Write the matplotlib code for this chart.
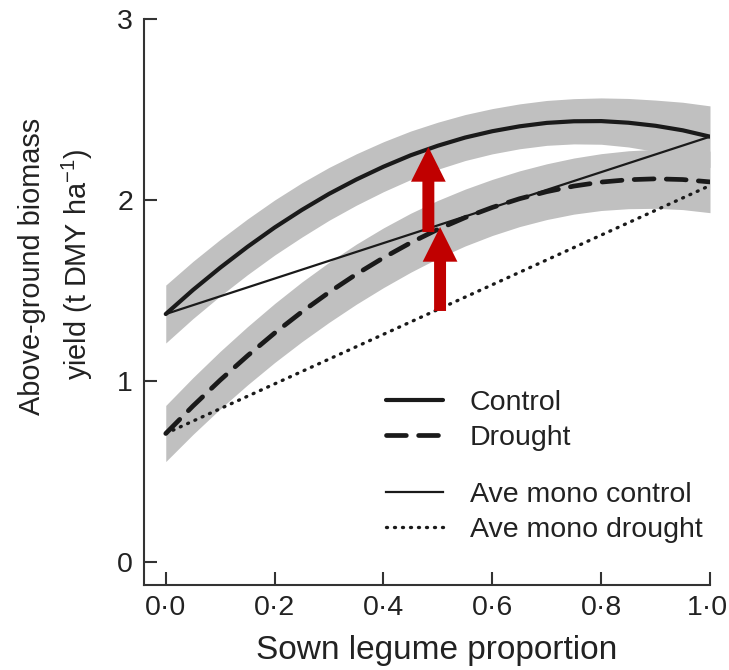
import matplotlib
matplotlib.use('Agg')
import matplotlib.pyplot as plt
from matplotlib.patches import FancyArrowPatch, ArrowStyle
from matplotlib.lines import Line2D
from matplotlib.transforms import ScaledTranslation

plt.rcParams['font.family'] = ['Liberation Sans', 'DejaVu Sans']
plt.rcParams['mathtext.fontset'] = 'custom'
plt.rcParams['mathtext.rm'] = 'Liberation Sans'
plt.rcParams['mathtext.it'] = 'Liberation Sans:italic'
plt.rcParams['mathtext.default'] = 'regular'

# ---------------- data ----------------
x = [0.0, 0.05, 0.1, 0.15, 0.2, 0.25, 0.3, 0.35, 0.4, 0.45, 0.5,
     0.55, 0.6, 0.65, 0.7, 0.75, 0.8, 0.85, 0.9, 0.95, 1.0]

control_mean = [1.370, 1.503, 1.626, 1.741, 1.848, 1.945, 2.034, 2.113, 2.184, 2.247, 2.300,
                2.345, 2.380, 2.407, 2.426, 2.435, 2.436, 2.427, 2.410, 2.385, 2.350]
control_lower = [1.210, 1.345, 1.470, 1.587, 1.696, 1.795, 1.888, 1.971, 2.046, 2.113, 2.170,
                 2.218, 2.255, 2.283, 2.302, 2.310, 2.308, 2.293, 2.268, 2.230, 2.180]
control_upper = [1.530, 1.661, 1.782, 1.895, 2.000, 2.095, 2.180, 2.255, 2.322, 2.381, 2.430,
                 2.472, 2.505, 2.531, 2.550, 2.560, 2.564, 2.561, 2.552, 2.540, 2.520]

drought_mean = [0.710, 0.862, 1.005, 1.139, 1.265, 1.382, 1.490, 1.590, 1.681, 1.764, 1.838,
                1.903, 1.959, 2.007, 2.046, 2.077, 2.099, 2.112, 2.117, 2.113, 2.100]
drought_lower = [0.555, 0.705, 0.846, 0.978, 1.102, 1.217, 1.324, 1.424, 1.516, 1.601, 1.678,
                 1.746, 1.804, 1.853, 1.892, 1.922, 1.942, 1.952, 1.954, 1.947, 1.930]
drought_upper = [0.865, 1.019, 1.164, 1.300, 1.428, 1.547, 1.656, 1.756, 1.846, 1.927, 1.998,
                 2.060, 2.114, 2.161, 2.200, 2.232, 2.256, 2.272, 2.280, 2.279, 2.270]

mono_x = [0.0, 1.0]
mono_control = [1.37, 2.35]
mono_drought = [0.71, 2.08]

arrow_x = [0.4825, 0.504]
arrow_from = [1.823, 1.387]
arrow_to = [2.293, 1.851]

xticks = [0.0, 0.2, 0.4, 0.6, 0.8, 1.0]
xtick_labels = ['0\u00b70', '0\u00b72', '0\u00b74', '0\u00b76', '0\u00b78', '1\u00b70']
yticks = [0, 1, 2, 3]
ytick_labels = ['0', '1', '2', '3']

legend_labels_1 = ['Control', 'Drought']
legend_labels_2 = ['Ave mono control', 'Ave mono drought']

# ---------------- figure ----------------
W, H = 729, 670
fig = plt.figure(figsize=(W / 100, H / 100), dpi=100)
ax = fig.add_axes([144 / W, 1 - 585 / H, (710 - 144) / W, (585 - 19) / H])
ax.set_xlim(-0.04, 1.0)
ax.set_ylim(-0.127, 3.0)

band_col = '#c0c0c0'
line_col = '#1a1a1a'
ax.fill_between(x, control_lower, control_upper, color=band_col, lw=0, zorder=1)
ax.fill_between(x, drought_lower, drought_upper, color=band_col, lw=0, zorder=1)

ctrl_kw = dict(color=line_col, lw=3.0, solid_capstyle='round', solid_joinstyle='round')
drt_kw = dict(color=line_col, lw=3.4, dashes=(4.2, 2.6), dash_capstyle='round')
mc_kw = dict(color=line_col, lw=1.6)
md_kw = dict(color=line_col, lw=2.4, dashes=(0.3, 2.1), dash_capstyle='round')

ax.plot(x, control_mean, zorder=3, **ctrl_kw)
ax.plot(x, drought_mean, zorder=3, **drt_kw)
ax.plot(mono_x, mono_control, zorder=3, **mc_kw)
ax.plot(mono_x, mono_drought, zorder=3, **md_kw)

red = '#c00000'
for xa, y0, y1 in zip(arrow_x, arrow_from, arrow_to):
    arr = FancyArrowPatch((xa, y0), (xa, y1),
                          arrowstyle=ArrowStyle.Simple(head_length=25, head_width=25, tail_width=8.6),
                          mutation_scale=1, color=red, lw=0, shrinkA=0, shrinkB=0, zorder=10)
    ax.add_patch(arr)

# axes styling
for s in ['top', 'right']:
    ax.spines[s].set_visible(False)
for s in ['left', 'bottom']:
    ax.spines[s].set_linewidth(1.5)
    ax.spines[s].set_color('#333333')
ax.set_xticks(xticks)
ax.set_xticklabels(xtick_labels)
ax.set_yticks(yticks)
ax.set_yticklabels(ytick_labels)
ax.tick_params(axis='both', direction='in', length=9.5, width=1.5, color='#333333',
               labelsize=20.5, labelcolor='#222222')
ax.tick_params(axis='x', pad=7)
ax.tick_params(axis='y', pad=8)
last = ax.get_xticklabels()[-1]
last.set_transform(last.get_transform() + ScaledTranslation(-3 / 100, 0, fig.dpi_scale_trans))

# legends
h1 = [Line2D([], [], **ctrl_kw), Line2D([], [], **drt_kw)]
h2 = [Line2D([], [], **mc_kw), Line2D([], [], **md_kw)]
leg_kw = dict(loc='upper left', bbox_transform=fig.transFigure, frameon=False, fontsize=20.5,
              handlelength=2.0, handletextpad=0.95, labelspacing=0.31, borderpad=0,
              borderaxespad=0, labelcolor='#222222')
leg1 = ax.legend(h1, legend_labels_1, bbox_to_anchor=(386 / W, 1 - 390 / H), **leg_kw)
ax.add_artist(leg1)
leg2 = ax.legend(h2, legend_labels_2, bbox_to_anchor=(386 / W, 1 - 482 / H), **leg_kw)

# axis titles
fig.text(437 / W, 1 - 651 / H, 'Sown legume proportion', ha='center', va='center',
         fontsize=24, color='#222222')
fig.text(32 / W, 1 - 266 / H, 'Above-ground biomass', rotation=90, ha='center', va='center',
         fontsize=20.8, color='#222222')
fig.text(77 / W, 1 - 264 / H, 'yield (t DMY ha$^{-1}$)', rotation=90, ha='center', va='center',
         fontsize=20.8, color='#222222')

fig.savefig('out.png', dpi=100)
